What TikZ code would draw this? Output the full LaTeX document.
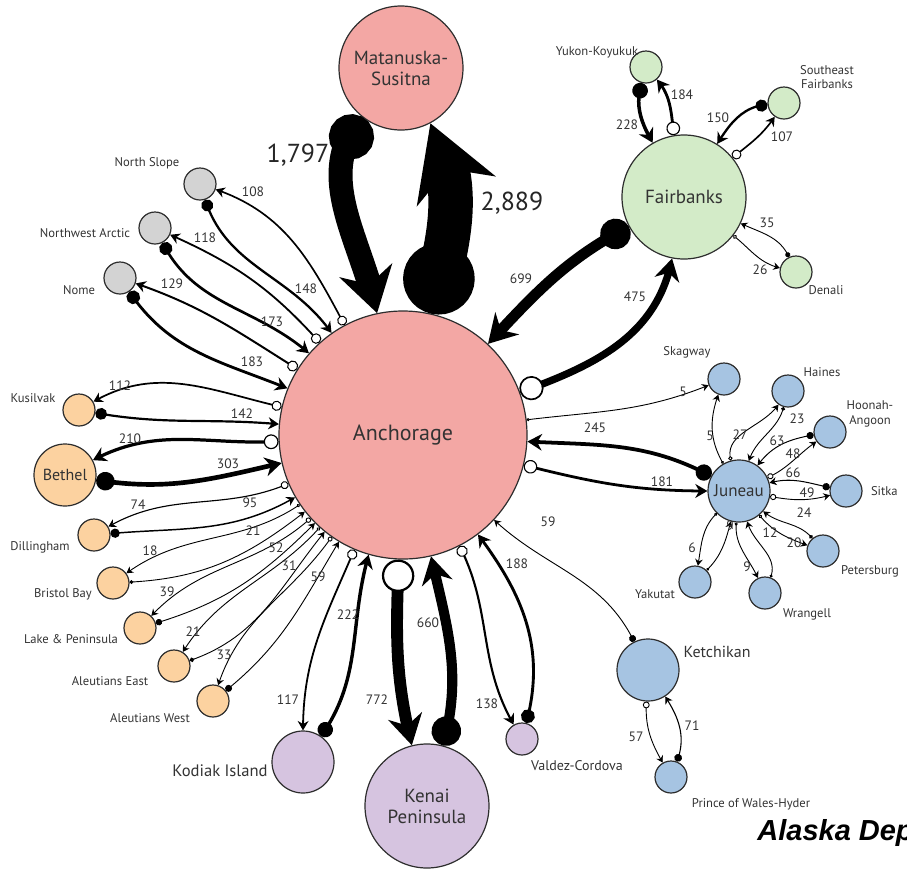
\documentclass[tikz,border=0pt]{standalone}
\usepackage{fontspec}
\setmainfont{PT Sans}
\newfontfamily\creditfont{Liberation Sans}
\usepackage{xcolor}
\usepackage{tikz}
\usetikzlibrary{
    positioning,
    arrows.meta,
    bending
}
\definecolor{anchpink}{RGB}{243,167,164}
\definecolor{fbkgreen}{RGB}{211,235,200}
\definecolor{sworange}{RGB}{252,210,160}
\definecolor{arcgray}{RGB}{211,211,211}
\definecolor{scpurple}{RGB}{214,196,224}
\definecolor{seblue}{RGB}{166,196,226}
\definecolor{inkgray}{RGB}{45,45,45}
\tikzset{
    region/.style={
        circle, draw=inkgray, line width=0.6pt,
        inner sep=0pt, align=center, text=black!80
    },
    big_region/.style={
        region, minimum size=62pt,
        font=\fontsize{9.5}{10.5}\selectfont
    },
    mid_region/.style={
        region, minimum size=31pt,
        font=\fontsize{8}{9}\selectfont
    },
    small_region/.style={
        region, minimum size=16pt
    },
    name_label/.style={
        font=\fontsize{6.3}{7.3}\selectfont, text=black!80,
        align=center, inner sep=0pt
    },
    flow_label/.style={
        font=\fontsize{6.8}{7}\selectfont, text=black!80, inner sep=0pt
    },
    big_flow_label/.style={
        font=\fontsize{13}{14}\selectfont, text=black!85, inner sep=0pt
    },
    % flow leaving the hub: open ring at the start
    open_flow/.code={%
        \pgfmathsetmacro\flowwd{max(0.45,#1/130)}%
        \pgfmathsetmacro\flowdot{max(1.5,0.3*(#1)^0.6)}%
        \pgfmathsetmacro\flowtip{1+4*(\flowwd)^0.7}%
        \pgfmathsetmacro\flowtipw{1.15*\flowtip}%
        \pgfmathsetmacro\flowring{0.4+0.12*\flowwd}%
        \tikzset{line width=\flowwd pt,
            arrows={Circle[fill=white, line width=\flowring pt, length=\flowdot pt]-Stealth[length=\flowtip pt, width=\flowtipw pt]}}%
    },
    % flow into the hub: filled dot at the start
    dot_flow/.code={%
        \pgfmathsetmacro\flowwd{max(0.45,#1/130)}%
        \pgfmathsetmacro\flowdot{max(1.5,0.3*(#1)^0.6)}%
        \pgfmathsetmacro\flowtip{1+4*(\flowwd)^0.7}%
        \pgfmathsetmacro\flowtipw{1.15*\flowtip}%
        \tikzset{line width=\flowwd pt,
            arrows={Circle[length=\flowdot pt]-Stealth[length=\flowtip pt, width=\flowtipw pt]}}%
    }
}

\begin{document}
\begin{tikzpicture}[
        x=0.5pt, y=0.5pt,
        credit/.style={font=\creditfont\bfseries\itshape\fontsize{14.5}{16}\selectfont, inner sep=0pt}
    ]
    \useasboundingbox (0,0) rectangle (907,-869);
    \clip (0,0) rectangle (907,-869);

    % HUBS
    \node[region, minimum size=124pt, fill=anchpink, font=\fontsize{11}{12}\selectfont] (anchorage) at (403,-435) {Anchorage};
    \node[big_region, fill=anchpink] (matsu) at (401,-68) {Matanuska-\\Susitna};
    \node[big_region, fill=fbkgreen] (fairbanks) at (684,-197) {Fairbanks};
    \node[big_region, fill=scpurple] (kenai) at (427,-806) {Kenai\\Peninsula};
    \node[mid_region, fill=sworange] (bethel) at (65,-475) {Bethel};
    \node[mid_region, fill=scpurple] (kodiak) at (303,-762) {};
    \node[mid_region, fill=seblue, font=\fontsize{8.5}{9}\selectfont] (juneau) at (739,-491) {Juneau};
    \node[mid_region, fill=seblue] (ketchikan) at (648,-670) {};

    % NORTH / WEST
    \node[small_region, fill=arcgray] (north_slope) at (200,-184) {};
    \node[small_region, fill=arcgray] (nw_arctic) at (155,-228) {};
    \node[small_region, fill=arcgray] (nome) at (120,-278) {};
    \node[small_region, fill=sworange] (kusilvak) at (79,-410) {};
    \node[small_region, fill=sworange] (dillingham) at (94,-535) {};
    \node[small_region, fill=sworange] (bristol_bay) at (113,-583) {};
    \node[small_region, fill=sworange] (lake_pen) at (140,-628) {};
    \node[small_region, fill=sworange] (aleut_east) at (174,-666) {};
    \node[small_region, fill=sworange] (aleut_west) at (213,-701) {};
    \node[small_region, fill=scpurple] (valdez) at (522,-739) {};

    % INTERIOR
    \node[small_region, fill=fbkgreen] (yukon) at (646,-67) {};
    \node[small_region, fill=fbkgreen] (se_fairbanks) at (784,-103) {};
    \node[small_region, fill=fbkgreen] (denali) at (796,-272) {};

    % SOUTHEAST
    \node[small_region, fill=seblue] (skagway) at (724,-379) {};
    \node[small_region, fill=seblue] (haines) at (788,-391) {};
    \node[small_region, fill=seblue] (hoonah) at (830,-432) {};
    \node[small_region, fill=seblue] (sitka) at (846,-491) {};
    \node[small_region, fill=seblue] (petersburg) at (823,-551) {};
    \node[small_region, fill=seblue] (wrangell) at (765,-593) {};
    \node[small_region, fill=seblue] (yakutat) at (695,-582) {};
    \node[small_region, fill=seblue] (pw_hyder) at (671,-777) {};

    % Names
    \node[name_label] (north_slope_name) at (147,-163) {North Slope};
    \node[name_label] (nw_arctic_name) at (85,-233) {Northwest Arctic};
    \node[name_label] (nome_name) at (79,-290) {Nome};
    \node[name_label] (kusilvak_name) at (33,-398) {Kusilvak};
    \node[name_label] (dillingham_name) at (40,-547) {Dillingham};
    \node[name_label] (bristol_bay_name) at (63,-594) {Bristol Bay};
    \node[name_label] (lake_pen_name) at (71,-639) {Lake \& Peninsula};
    \node[name_label] (aleut_east_name) at (110,-681) {Aleutians East};
    \node[name_label] (aleut_west_name) at (150,-718) {Aleutians West};
    \node[name_label, font=\fontsize{8.3}{9}\selectfont] (kodiak_name) at (220,-771) {Kodiak Island};
    \node[name_label, font=\fontsize{7}{8}\selectfont] (valdez_name) at (577,-766) {Valdez-Cordova};
    \node[name_label] (yukon_name) at (597,-52) {Yukon-Koyukuk};
    \node[name_label] (se_fairbanks_name) at (827,-77) {Southeast\\Fairbanks};
    \node[name_label] (denali_name) at (826,-290) {Denali};
    \node[name_label] (skagway_name) at (687,-352) {Skagway};
    \node[name_label] (haines_name) at (822,-372) {Haines};
    \node[name_label] (hoonah_name) at (870,-414) {Hoonah-\\Angoon};
    \node[name_label, right=4pt of sitka] (sitka_name) {Sitka};
    \node[name_label] (petersburg_name) at (870,-571) {Petersburg};
    \node[name_label] (wrangell_name) at (807,-614) {Wrangell};
    \node[name_label] (yakutat_name) at (655,-594) {Yakutat};
    \node[name_label, font=\fontsize{8}{9}\selectfont] (ketchikan_name) at (717,-652) {Ketchikan};
    \node[name_label] (pw_hyder_name) at (751,-804) {Prince of Wales-Hyder};

    % Anchorage <-> Mat-Su
    \draw[dot_flow=1797, line width=12pt, arrows={Circle[length=22.5pt]-Stealth[length=22pt, width=27pt]}] (matsu) to[out=231, in=102] (anchorage);
    \draw[dot_flow=2889] (anchorage) to[out=77, in=298] (matsu);
    \node[big_flow_label] (lbl_1797) at (298,-155) {1,797};
    \node[big_flow_label] (lbl_2889) at (512,-203) {2,889};

    % Anchorage <-> Fairbanks
    \draw[dot_flow=699] (fairbanks) to[out=208, in=47] (anchorage);
    \draw[open_flow=475] (anchorage) to[out=20, in=259] (fairbanks);
    \node[flow_label] (lbl_699) at (521,-279) {699};
    \node[flow_label] (lbl_475) at (635,-297) {475};

    % Anchorage <-> north and west
    \draw[open_flow=108] (anchorage) to[out=118, in=-19] (north_slope);
    \draw[dot_flow=148] (north_slope) to[out=-72, in=125] (anchorage);
    \draw[open_flow=118] (anchorage) to[out=132, in=-24] (nw_arctic);
    \draw[dot_flow=173] (nw_arctic) to[out=-63, in=139] (anchorage);
    \draw[open_flow=129] (anchorage) to[out=148, in=-19] (nome);
    \draw[dot_flow=183] (nome) to[out=-56, in=158] (anchorage);
    \draw[open_flow=112] (anchorage) to[out=167, in=30] (kusilvak);
    \draw[dot_flow=142] (kusilvak) to[out=-10, in=175] (anchorage);
    \draw[open_flow=210] (anchorage) to[out=183, in=28] (bethel);
    \draw[dot_flow=303] (bethel) to[out=-9, in=193] (anchorage);
    \draw[open_flow=74] (anchorage) to[out=203, in=30] (dillingham);
    \draw[dot_flow=95] (dillingham) to[out=5, in=210] (anchorage);
    \draw[open_flow=18] (anchorage) to[out=214, in=36] (bristol_bay);
    \draw[dot_flow=21] (bristol_bay) to[out=3, in=218] (anchorage);
    \draw[open_flow=39] (anchorage) to[out=222, in=47] (lake_pen);
    \draw[dot_flow=52] (lake_pen) to[out=17, in=225] (anchorage);
    \draw[open_flow=21] (anchorage) to[out=228, in=58] (aleut_east);
    \draw[dot_flow=31] (aleut_east) to[out=19, in=231] (anchorage);
    \draw[open_flow=33] (anchorage) to[out=235, in=72] (aleut_west);
    \draw[dot_flow=59] (aleut_west) to[out=39, in=239] (anchorage);
    \node[flow_label] (lbl_108) at (253,-192) {108};
    \node[flow_label] (lbl_148) at (306,-289) {148};
    \node[flow_label] (lbl_118) at (205,-238) {118};
    \node[flow_label] (lbl_173) at (272,-322) {173};
    \node[flow_label] (lbl_129) at (172,-284) {129};
    \node[flow_label] (lbl_183) at (252,-362) {183};
    \node[flow_label] (lbl_112) at (120,-386) {112};
    \node[flow_label] (lbl_142) at (242,-414) {142};
    \node[flow_label] (lbl_210) at (130,-439) {210};
    \node[flow_label] (lbl_303) at (228,-464) {303};
    \node[flow_label] (lbl_74) at (138,-505) {74};
    \node[flow_label] (lbl_95) at (250,-503) {95};
    \node[flow_label] (lbl_18) at (150,-551) {18};
    \node[flow_label] (lbl_21a) at (253,-531) {21};
    \node[flow_label] (lbl_39) at (167,-592) {39};
    \node[flow_label] (lbl_52) at (276,-548) {52};
    \node[flow_label] (lbl_21b) at (193,-632) {21};
    \node[flow_label] (lbl_31) at (289,-566) {31};
    \node[flow_label] (lbl_33) at (224,-655) {33};
    \node[flow_label] (lbl_59a) at (318,-577) {59};

    % Anchorage <-> south
    \draw[open_flow=117] (anchorage) to[out=247, in=90] (kodiak);
    \draw[dot_flow=222] (kodiak) to[out=55, in=254] (anchorage);
    \draw[open_flow=772] (anchorage) to[out=268, in=104] (kenai);
    \draw[dot_flow=660] (kenai) to[out=75, in=283] (anchorage);
    \draw[open_flow=138] (anchorage) to[out=297, in=120] (valdez);
    \draw[dot_flow=188] (valdez) to[out=75, in=307] (anchorage);
    \draw[dot_flow=59] (ketchikan) to[out=116, in=317] (anchorage);
    \node[flow_label] (lbl_117) at (288,-700) {117};
    \node[flow_label] (lbl_222) at (348,-615) {222};
    \node[flow_label] (lbl_772) at (377,-700) {772};
    \node[flow_label] (lbl_660) at (428,-623) {660};
    \node[flow_label] (lbl_138) at (487,-704) {138};
    \node[flow_label] (lbl_188) at (517,-564) {188};
    \node[flow_label] (lbl_59b) at (548,-522) {59};

    % Anchorage <-> southeast
    \draw[dot_flow=245] (juneau) to[out=152, in=-3] (anchorage);
    \draw[open_flow=181] (anchorage) to[out=346, in=180] (juneau);
    \draw[open_flow=5] (anchorage) to[out=7, in=202] (skagway);
    \node[flow_label] (lbl_245) at (595,-428) {245};
    \node[flow_label] (lbl_181) at (662,-482) {181};
    \node[flow_label] (lbl_5a) at (683,-392) {5};

    % Fairbanks spokes
    \draw[dot_flow=228] (yukon) to[out=254, in=120] (fairbanks);
    \draw[open_flow=184] (fairbanks) to[out=99, in=311] (yukon);
    \draw[dot_flow=150] (se_fairbanks) to[out=185, in=58] (fairbanks);
    \draw[open_flow=107] (fairbanks) to[out=39, in=236] (se_fairbanks);
    \draw[dot_flow=35] (denali) to[out=115, in=335] (fairbanks);
    \draw[open_flow=26] (fairbanks) to[out=322, in=166] (denali);
    \node[flow_label] (lbl_228) at (627,-125) {228};
    \node[flow_label] (lbl_184) at (682,-95) {184};
    \node[flow_label] (lbl_150) at (718,-118) {150};
    \node[flow_label] (lbl_107) at (782,-137) {107};
    \node[flow_label] (lbl_35) at (767,-223) {35};
    \node[flow_label] (lbl_26) at (760,-270) {26};

    % Ketchikan <-> Prince of Wales-Hyder
    \draw[open_flow=57] (ketchikan) to[out=267, in=120] (pw_hyder);
    \draw[dot_flow=71] (pw_hyder) to[out=69, in=303] (ketchikan);
    \node[flow_label] (lbl_57) at (636,-737) {57};
    \node[flow_label] (lbl_71) at (692,-726) {71};

    % Juneau spokes
    \draw[open_flow=5] (juneau) to[out=120, in=250] (skagway);
    \draw[open_flow=27] (juneau) to[out=105, in=235] (haines);
    \draw[dot_flow=23] (haines) to[out=255, in=72] (juneau);
    \draw[dot_flow=63] (hoonah) to[out=190, in=54] (juneau);
    \draw[open_flow=48] (juneau) to[out=25, in=215] (hoonah);
    \draw[dot_flow=66] (sitka) to[out=168, in=15] (juneau);
    \draw[open_flow=49] (juneau) to[out=-10, in=195] (sitka);
    \draw[dot_flow=24] (petersburg) to[out=130, in=-40] (juneau);
    \draw[open_flow=20] (juneau) to[out=-50, in=160] (petersburg);
    \draw[dot_flow=12] (wrangell) to[out=70, in=-75] (juneau);
    \draw[open_flow=9] (juneau) to[out=-95, in=115] (wrangell);
    \draw[open_flow=6] (juneau) to[out=-135, in=80] (yakutat);
    \draw[dot_flow=9] (yakutat) to[out=45, in=-105] (juneau);
    \node[flow_label] (lbl_5b) at (710,-436) {5};
    \node[flow_label] (lbl_27) at (740,-435) {27};
    \node[flow_label] (lbl_23) at (797,-419) {23};
    \node[flow_label] (lbl_63) at (777,-441) {63};
    \node[flow_label] (lbl_48) at (793,-454) {48};
    \node[flow_label] (lbl_66) at (793,-473) {66};
    \node[flow_label] (lbl_49) at (807,-493) {49};
    \node[flow_label] (lbl_24) at (804,-513) {24};
    \node[flow_label] (lbl_20) at (794,-543) {20};
    \node[flow_label] (lbl_12) at (770,-533) {12};
    \node[flow_label] (lbl_9a) at (730,-526) {9};
    \node[flow_label] (lbl_6) at (692,-548) {6};
    \node[flow_label] (lbl_9b) at (747,-567) {9};

    % Credit
    \node[credit, anchor=base west] (credit_text) at (757,-840) {Alaska Dep};

\end{tikzpicture}
\end{document}
